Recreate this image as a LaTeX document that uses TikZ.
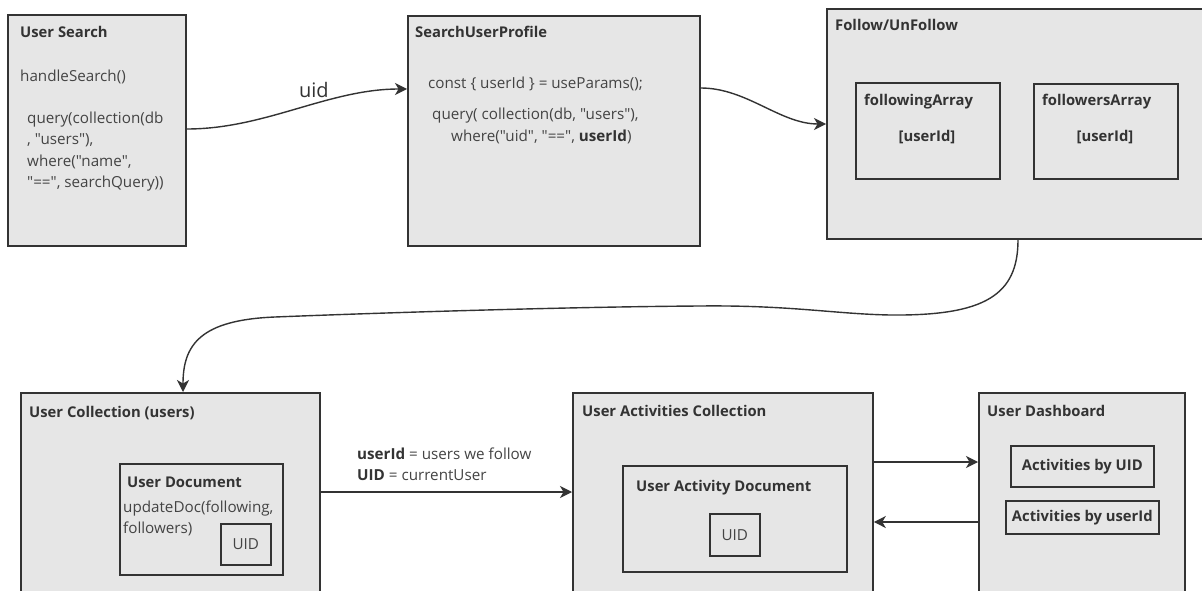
\documentclass[tikz,border=0pt]{standalone}
\usepackage{fontspec}
\setmainfont{Open Sans}[Ligatures=TeXOff]
\usetikzlibrary{arrows.meta}
\definecolor{boxfill}{HTML}{E6E6E6}
\definecolor{ink}{HTML}{333333}
\definecolor{txt}{HTML}{444444}

\begin{document}
\begin{tikzpicture}[x=1pt,y=-1pt,
  panel/.style={draw=ink, line width=1.8pt, fill=boxfill, anchor=north west, inner sep=0pt},
  subbox/.style={draw=ink, line width=1.6pt, anchor=north west, inner sep=0pt},
  title/.style={anchor=base west, inner sep=0pt, font=\fontsize{14.8}{17}\selectfont\bfseries, text=ink},
  body/.style={anchor=base west, inner sep=0pt, font=\fontsize{15.2}{17}\selectfont, text=txt},
  centre/.style={inner sep=0pt, font=\fontsize{15.2}{17}\selectfont, text=txt},
  conn/.style={draw=ink, line width=1.4pt, -{Stealth[length=12pt,width=12pt,inset=3.5pt]}},
]
\useasboundingbox (0,0) rectangle (1202,591);
\clip (0,0) rectangle (1202,591);
\fill[white] (0,0) rectangle (1202,591);

% ---------- top row ----------
\node[panel, minimum width=178pt, minimum height=231pt] (search) at (7,14) {};
\node[title] (searchT) at (20,38) {User Search};
\node[body] (searchA) at (20,82) {handleSearch()};
\node[body] (searchB) at (27,124) {query(collection(db};
\node[body] (searchC) at (27,145) {, "users"),};
\node[body] (searchD) at (27,166) {where("name",};
\node[body] (searchE) at (27,187) {"==", searchQuery))};

\node[panel, minimum width=292pt, minimum height=230pt] (profile) at (407,15) {};
\node[title] (profileT) at (415,38) {SearchUserProfile};
\node[body] (profileA) at (428,89) {const \{ userId \} = useParams();};
\node[body] (profileB) at (432,120) {query( collection(db, "users"),};
\node[body] (profileC) at (451,142) {where("uid", "==", \textbf{\color{ink}userId})};

\node[panel, minimum width=390pt, minimum height=230pt] (follow) at (826,8) {};
\node[title] (followT) at (835,31) {Follow/UnFollow};
\node[subbox, minimum width=144pt, minimum height=96pt] (following) at (855,82) {};
\node[title] (followingT) at (864,106) {followingArray};
\node[title, anchor=base] (followingV) at (927,142) {[userId]};
\node[subbox, minimum width=144pt, minimum height=95pt] (followers) at (1033,83) {};
\node[title] (followersT) at (1042,106) {followersArray};
\node[title, anchor=base] (followersV) at (1105,142) {[userId]};

% ---------- bottom row ----------
\node[panel, minimum width=299pt, minimum height=230pt] (coll) at (20,392) {};
\node[title] (collT) at (29,417) {User Collection (users)};
\node[subbox, minimum width=163pt, minimum height=111pt] (userdoc) at (119,463) {};
\node[title] (userdocT) at (127,487) {User Document};
\node[body] (userdocA) at (123,512) {updateDoc(following,};
\node[body] (userdocB) at (123,533) {followers)};
\node[subbox, minimum width=50pt, minimum height=41pt] (uidA) at (220,523) {};
\node[centre] (uidAT) at (uidA.center) {UID};

\node[panel, minimum width=300pt, minimum height=230pt] (act) at (572,392) {};
\node[title] (actT) at (582,416) {User Activities Collection};
\node[subbox, minimum width=224pt, minimum height=106pt] (actdoc) at (622,465) {};
\node[title] (actdocT) at (636,491) {User Activity Document};
\node[subbox, minimum width=50pt, minimum height=42pt] (uidB) at (709,513) {};
\node[centre] (uidBT) at (uidB.center) {UID};

\node[panel, minimum width=206pt, minimum height=230pt] (dash) at (978,392) {};
\node[title] (dashT) at (987,416) {User Dashboard};
\node[subbox, minimum width=143pt, minimum height=41pt] (byuid) at (1010,445) {};
\node[title, anchor=center] (byuidT) at (byuid.center) {Activities by UID};
\node[subbox, minimum width=153pt, minimum height=33pt] (byuser) at (1005,500) {};
\node[title, anchor=center] (byuserT) at (byuser.center) {Activities by userId};

% ---------- connectors ----------
\draw[conn] ([yshift=-115pt]search.north east) to[out=0, in=180, looseness=0.9]
  node[pos=0.58, above=6pt, inner sep=0pt, font=\fontsize{20}{22}\selectfont, text=ink] (uidL) {uid}
  ([yshift=-74pt]profile.north west);

\draw[conn] ([yshift=-73pt]profile.north east) to[out=0, in=180, looseness=0.9]
  ([yshift=-116pt]follow.north west);

\coordinate (bendA) at (890,315);
\coordinate (bendB) at (700,306);
\coordinate (bendC) at (275,317);
\draw[conn] (follow.south -| 1018,0)
  .. controls (1018,295) and (985,316) .. (bendA)
  .. controls (835,314) and (790,305) .. (bendB)
  .. controls (550,307) and (350,314) .. (bendC)
  .. controls (200,320) and (183,345) .. (coll.north -| 183,0);

\draw[conn] ([yshift=-100pt]coll.north east) -- ([yshift=-100pt]act.north west);
\node[body] (legendA) at (357,459) {\textbf{\color{ink}userId} = users we follow};
\node[body] (legendB) at (357,480) {\textbf{\color{ink}UID} = currentUser};

\draw[conn] ([yshift=-70pt]act.north east) -- ([yshift=-70pt]dash.north west);
\draw[conn] ([yshift=-130pt]dash.north west) -- ([yshift=-130pt]act.north east);
\end{tikzpicture}
\end{document}
